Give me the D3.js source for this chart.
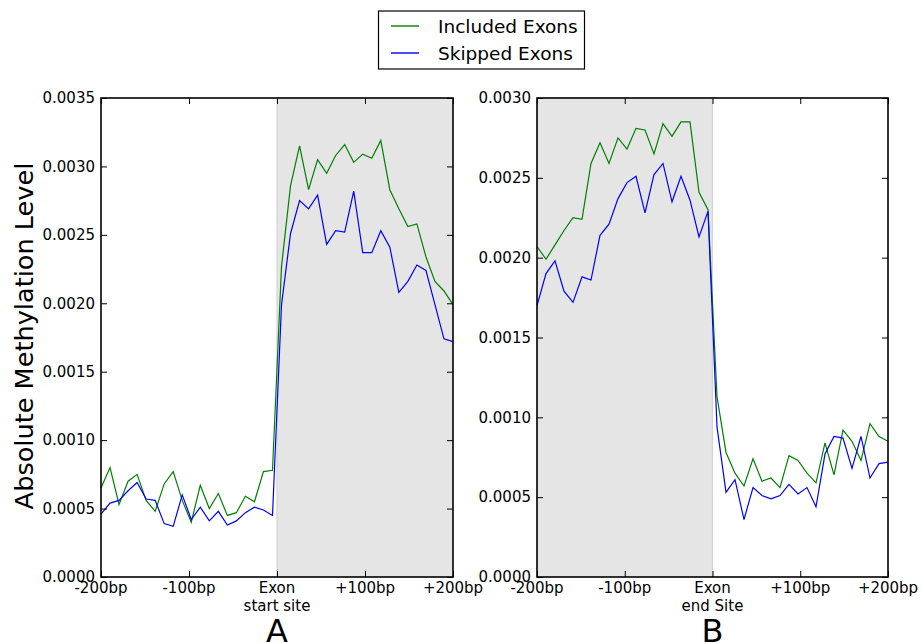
<!DOCTYPE html>
<html>
<head>
<meta charset="utf-8">
<script src="https://cdn.jsdelivr.net/npm/d3@7"></script>
<style>
  body { margin: 0; background: #fff; }
  svg { font-family: "DejaVu Sans", sans-serif; }
</style>
</head>
<body>
<div id="chart"></div>
<script>
// --- data (40 bins across -200bp..+200bp) ---
const seriesNames = ["Included Exons", "Skipped Exons"];
const seriesColors = ["#008000", "#0000ff"];

const startIncluded = [
  0.00065, 0.00080, 0.00053, 0.00070, 0.00075, 0.00056, 0.00048, 0.00068, 0.00077, 0.00056,
  0.00040, 0.00067, 0.00050, 0.00061, 0.00045, 0.00047, 0.00059, 0.00055, 0.00077, 0.00078,
  0.00227, 0.00286, 0.00315, 0.00283, 0.00305, 0.00295, 0.00308, 0.00316, 0.00303, 0.00309,
  0.00306, 0.00319, 0.00283, 0.00269, 0.00256, 0.00258, 0.00234, 0.00216, 0.00209, 0.00199
];
const startSkipped = [
  0.00046, 0.00054, 0.00056, 0.00063, 0.00069, 0.00057, 0.00056, 0.00039, 0.00037, 0.00060,
  0.00042, 0.00051, 0.00041, 0.00048, 0.00038, 0.00041, 0.00047, 0.00051, 0.00049, 0.00045,
  0.00199, 0.00251, 0.00275, 0.00269, 0.00279, 0.00243, 0.00253, 0.00252, 0.00282, 0.00237,
  0.00237, 0.00253, 0.00241, 0.00208, 0.00216, 0.00228, 0.00224, 0.00199, 0.00174, 0.00172
];
const endIncluded = [
  0.00207, 0.00199, 0.00208, 0.00217, 0.00225, 0.00224, 0.00259, 0.00272, 0.00259, 0.00275,
  0.00268, 0.00281, 0.00280, 0.00265, 0.00284, 0.00276, 0.00285, 0.00285, 0.00241, 0.00230,
  0.00113, 0.00078, 0.00065, 0.00057, 0.00074, 0.00060, 0.00062, 0.00056, 0.00076, 0.00073,
  0.00065, 0.00059, 0.00084, 0.00064, 0.00092, 0.00085, 0.00073, 0.00096, 0.00088, 0.00085
];
const endSkipped = [
  0.00170, 0.00190, 0.00198, 0.00179, 0.00172, 0.00188, 0.00186, 0.00214, 0.00221, 0.00237,
  0.00247, 0.00251, 0.00228, 0.00252, 0.00259, 0.00235, 0.00251, 0.00236, 0.00213, 0.00229,
  0.00094, 0.00053, 0.00061, 0.00036, 0.00056, 0.00051, 0.00049, 0.00051, 0.00058, 0.00052,
  0.00056, 0.00044, 0.00077, 0.00088, 0.00087, 0.00068, 0.00088, 0.00062, 0.00071, 0.00072
];

const xTickValues = [-200, -100, 0, 100, 200];
const xTickLabelsA = ["-200bp", "-100bp", "Exon\nstart site", "+100bp", "+200bp"];
const xTickLabelsB = ["-200bp", "-100bp", "Exon\nend Site", "+100bp", "+200bp"];
const yTicksA = [0, 0.0005, 0.0010, 0.0015, 0.0020, 0.0025, 0.0030, 0.0035];
const yTicksB = [0, 0.0005, 0.0010, 0.0015, 0.0020, 0.0025, 0.0030];

// bin centres: 40 evenly spaced samples over the window
const binPos = d3.range(startIncluded.length).map(i => -200 + i * 400 / (startIncluded.length - 1));

const width = 922, height = 643;
const svg = d3.select("#chart").append("svg")
  .attr("width", width)
  .attr("height", height);

const panels = [
  { left: 101, right: 453, yMax: 0.0035, yTicks: yTicksA, labels: xTickLabelsA,
    shade: [0, 200], series: [startIncluded, startSkipped], letter: "A" },
  { left: 537, right: 888, yMax: 0.0030, yTicks: yTicksB, labels: xTickLabelsB,
    shade: [-200, 0], series: [endIncluded, endSkipped], letter: "B" }
];
const plotTop = 98, plotBottom = 577;

panels.forEach(p => {
  const x = d3.scaleLinear().domain([-200, 200]).range([p.left, p.right]);
  const y = d3.scaleLinear().domain([0, p.yMax]).range([plotBottom, plotTop]);
  const g = svg.append("g");

  // exon region shading
  g.append("rect")
    .attr("x", x(p.shade[0]))
    .attr("y", plotTop)
    .attr("width", x(p.shade[1]) - x(p.shade[0]))
    .attr("height", plotBottom - plotTop)
    .attr("fill", "#e5e5e5");
  g.append("line")
    .attr("x1", x(0)).attr("x2", x(0))
    .attr("y1", plotTop).attr("y2", plotBottom)
    .attr("stroke", "#d4d4d4").attr("stroke-width", 1.2);

  // lines
  const line = d3.line()
    .x((d, i) => x(binPos[i]))
    .y(d => y(d));
  p.series.forEach((s, k) => {
    g.append("path")
      .datum(s)
      .attr("d", line)
      .attr("fill", "none")
      .attr("stroke", seriesColors[k])
      .attr("stroke-width", 1.2)
      .attr("stroke-linejoin", "miter");
  });

  // axes: inward ticks on all four sides, old matplotlib style
  const fmt = d3.format(".4f");
  const yLeft = d3.axisLeft(y).tickValues(p.yTicks).tickFormat(fmt).tickSizeInner(-6).tickSizeOuter(0).tickPadding(6);
  const yRight = d3.axisRight(y).tickValues(p.yTicks).tickFormat("").tickSizeInner(-6).tickSizeOuter(0);
  const xBottom = d3.axisBottom(x).tickValues(xTickValues).tickFormat("").tickSizeInner(-6).tickSizeOuter(0);
  const xTop = d3.axisTop(x).tickValues(xTickValues).tickFormat("").tickSizeInner(-6).tickSizeOuter(0);

  const gl = g.append("g").attr("transform", `translate(${p.left},0)`).call(yLeft);
  gl.selectAll("text").attr("font-size", 15).attr("fill", "#000").attr("font-family", "DejaVu Sans");
  g.append("g").attr("transform", `translate(${p.right},0)`).call(yRight);
  g.append("g").attr("transform", `translate(0,${plotBottom})`).call(xBottom);
  g.append("g").attr("transform", `translate(0,${plotTop})`).call(xTop);
  g.selectAll(".domain").remove();
  g.selectAll(".tick line").attr("stroke", "#000").attr("stroke-width", 1);

  // frame
  g.append("rect")
    .attr("x", p.left).attr("y", plotTop)
    .attr("width", p.right - p.left).attr("height", plotBottom - plotTop)
    .attr("fill", "none").attr("stroke", "#000").attr("stroke-width", 1.6);

  // x tick labels (some span two lines)
  xTickValues.forEach((v, i) => {
    const t = g.append("text")
      .attr("x", x(v)).attr("y", plotBottom + 16)
      .attr("text-anchor", "middle")
      .attr("font-size", 15);
    p.labels[i].split("\n").forEach((s, j) => {
      t.append("tspan").attr("x", x(v)).attr("dy", j === 0 ? 0 : 18).text(s);
    });
  });

  g.append("text")
    .attr("x", x(0)).attr("y", 642)
    .attr("text-anchor", "middle")
    .attr("font-size", 32)
    .text(p.letter);
});

// y axis title
svg.append("text")
  .attr("transform", `translate(33,336) rotate(-90)`)
  .attr("text-anchor", "middle")
  .attr("font-size", 25.6)
  .text("Absolute Methylation Level");

// legend
const legend = svg.append("g");
legend.append("rect")
  .attr("x", 378.5).attr("y", 11).attr("width", 206).attr("height", 58)
  .attr("fill", "#fff").attr("stroke", "#000").attr("stroke-width", 1.2);
seriesNames.forEach((name, k) => {
  const ly = 26 + k * 27;
  legend.append("line")
    .attr("x1", 391).attr("x2", 419).attr("y1", ly).attr("y2", ly)
    .attr("stroke", seriesColors[k]).attr("stroke-width", 1.4);
  legend.append("text")
    .attr("x", 438).attr("y", ly + 7)
    .attr("font-size", 18.5)
    .text(name);
});
</script>
</body>
</html>
